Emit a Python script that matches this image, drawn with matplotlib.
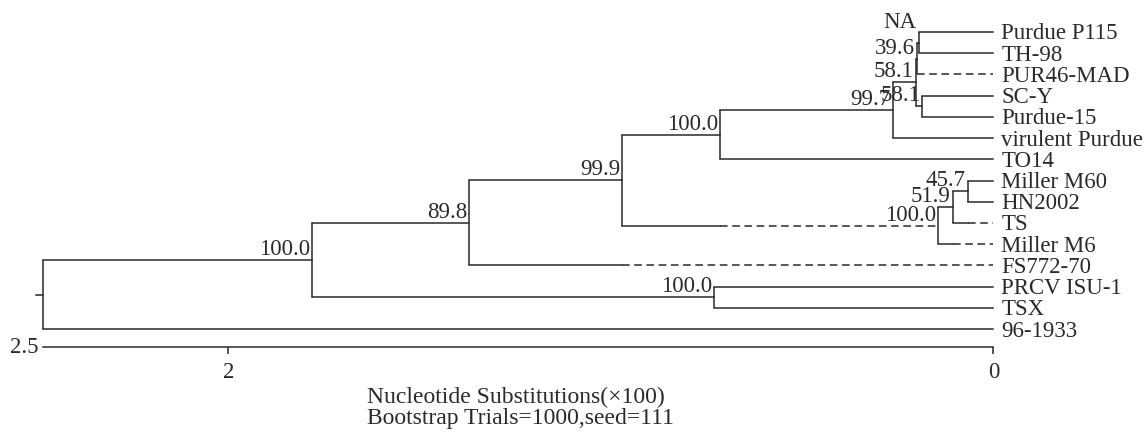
import matplotlib.pyplot as plt

# leaves, top to bottom
leaf_names = ["Purdue P115", "TH-98", "PUR46-MAD", "SC-Y", "Purdue-15",
              "virulent Purdue", "TO14", "Miller M60", "HN2002", "TS",
              "Miller M6", "FS772-70", "PRCV ISU-1", "TSX", "96-1933"]

# internal nodes: left child, right child, height (substitutions x100), bootstrap
node_names = ["na", "c396", "csc", "c581", "c997", "c100a", "c457", "c519",
              "c100b", "c999", "c898", "cprcv", "c100c", "root"]
node_left = ["Purdue P115", "na", "SC-Y", "c396", "c581", "c997", "Miller M60",
             "c457", "c519", "c100a", "c999", "PRCV ISU-1", "c898", "c100c"]
node_right = ["TH-98", "PUR46-MAD", "Purdue-15", "csc", "virulent Purdue", "TO14",
              "HN2002", "TS", "Miller M6", "c100b", "FS772-70", "TSX", "cprcv",
              "96-1933"]
node_height = [0.195, 0.199, 0.186, 0.203, 0.263, 0.715, 0.067, 0.106,
               0.145, 0.971, 1.371, 0.731, 1.782, 2.485]
node_support = ["NA", "39.6", "58.1", "58.1", "99.7", "100.0", "45.7", "51.9",
                "100.0", "99.9", "89.8", "100.0", "100.0", ""]

# branches drawn dashed from this height down to the child
dashed_child = ["PUR46-MAD", "c100b", "FS772-70", "TS", "Miller M6"]
dashed_start = [0.199, 0.715, 0.971, 0.067, 0.106]

scale_max_label = "2.5"
scale_ticks = [2, 0]

FONT = "Liberation Serif"
FS = 16.5
COL = "#2a2a2a"
LW = 1.1

height = {n: 0.0 for n in leaf_names}
ypos = {n: i for i, n in enumerate(leaf_names)}
for n, l, r, h in zip(node_names, node_left, node_right, node_height):
    height[n] = h
    ypos[n] = (ypos[l] + ypos[r]) / 2
dashed = dict(zip(dashed_child, dashed_start))

fig = plt.figure(figsize=(11.48, 4.36), dpi=100)
ax = fig.add_axes([0, 0, 1, 1])

for n, l, r, h, s in zip(node_names, node_left, node_right, node_height, node_support):
    ax.plot([h, h], [ypos[l], ypos[r]], color=COL, lw=LW, solid_capstyle="butt")
    for c in (l, r):
        if c in dashed:
            d = dashed[c]
            if d < h:
                ax.plot([h, d], [ypos[c], ypos[c]], color=COL, lw=LW)
            ax.plot([d, height[c]], [ypos[c], ypos[c]], color=COL, lw=LW,
                    ls=(0, (5, 3)))
        else:
            ax.plot([h, height[c]], [ypos[c], ypos[c]], color=COL, lw=LW)
    if s:
        dy = 10 if s == "NA" else 0
        ax.annotate(s, (h, ypos[n]), xytext=(-2, dy), textcoords="offset pixels",
                    ha="right", va="bottom", fontsize=FS, family=FONT, color=COL)

# root stub
root_h = node_height[-1]
ax.plot([root_h, root_h + 0.018], [ypos["root"], ypos["root"]], color=COL, lw=LW)

for n in leaf_names:
    ax.annotate(n, (0, ypos[n]), xytext=(8, -2), textcoords="offset pixels",
                ha="left", va="center", fontsize=FS, family=FONT, color=COL)

# scale bar as the x axis
ax.set_xlim(2.597, -0.404)
ax.set_ylim(19.04, -1.508)
for side in ["top", "left", "right"]:
    ax.spines[side].set_visible(False)
ax.spines["bottom"].set_position(("data", 14.85))
ax.spines["bottom"].set_bounds(0, root_h)
ax.spines["bottom"].set_color(COL)
ax.spines["bottom"].set_linewidth(LW)
ax.set_xticks(scale_ticks)
ax.set_xticklabels([str(t) for t in scale_ticks], fontsize=FS, family=FONT, color=COL)
ax.tick_params(axis="x", direction="out", length=5, width=LW, color=COL, pad=6)
ax.set_yticks([])
ax.annotate(scale_max_label, (root_h, 14.85), xytext=(-4, 0), textcoords="offset pixels",
            ha="right", va="center", fontsize=FS, family=FONT, color=COL)

fig.text(367 / 1148, 33 / 436, "Nucleotide Substitutions(\u00d7100)", ha="left",
         va="baseline", fontsize=17, family=FONT, color=COL)
fig.text(367 / 1148, 12 / 436, "Bootstrap Trials=1000,seed=111", ha="left",
         va="baseline", fontsize=17, family=FONT, color=COL)

fig.savefig("out.png", dpi=100)
